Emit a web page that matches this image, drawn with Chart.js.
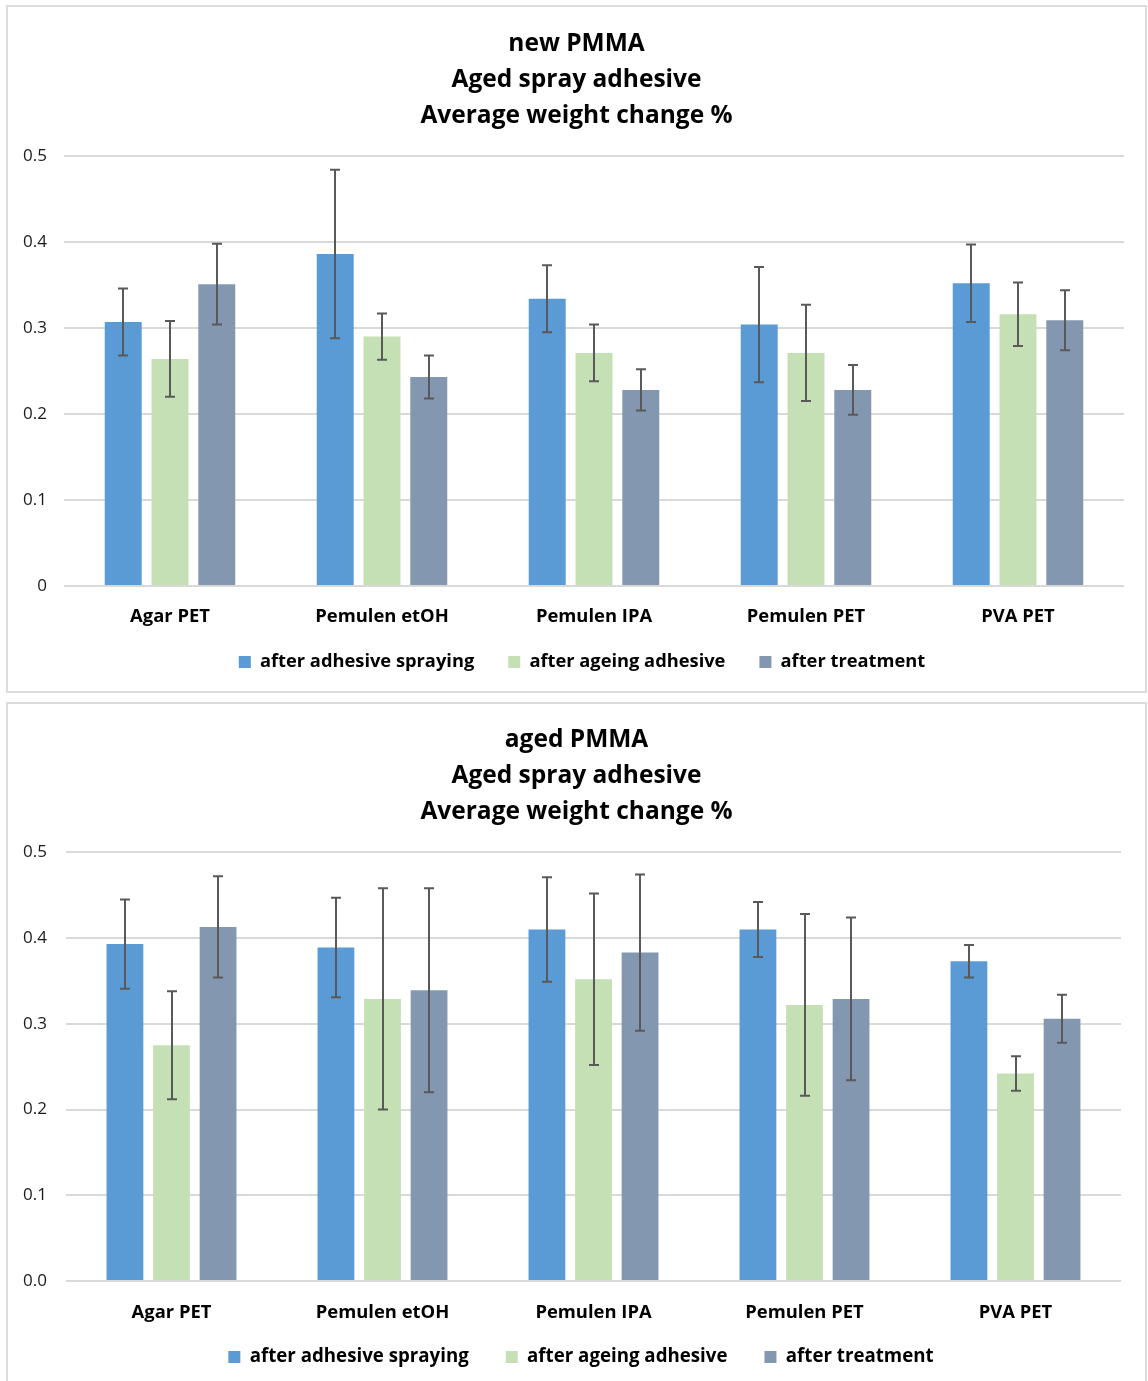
<!DOCTYPE html>
<html>
<head>
<meta charset="utf-8">
<title>Average weight change %</title>
<script src="https://cdn.jsdelivr.net/npm/chart.js@4.4.1/dist/chart.umd.min.js"></script>
<style>
  html, body { margin: 0; padding: 0; background: #fff; overflow: hidden; }
  body { position: relative; width: 1148px; height: 1381px; }
  .panel {
    position: absolute;
    left: 6px;
    width: 1141px;
    height: 688px;
    border: 2px solid #dcdcdc;
    box-sizing: border-box;
  }
  .panel canvas { display: block; }
</style>
</head>
<body>
<div class="panel" style="top: 5px;"><canvas id="newPmma" width="1137" height="684"></canvas></div>
<div class="panel" style="top: 702px;"><canvas id="agedPmma" width="1137" height="684"></canvas></div>

<script>
const categories = ['Agar PET', 'Pemulen etOH', 'Pemulen IPA', 'Pemulen PET', 'PVA PET'];
const seriesNames = ['after adhesive spraying', 'after ageing adhesive', 'after treatment'];
const seriesColors = ['#5b9bd5', '#c5e0b4', '#8497b0'];
const yTicks = [0, 0.1, 0.2, 0.3, 0.4, 0.5];

// new PMMA
const newSpraying = [0.307, 0.386, 0.334, 0.304, 0.352];
const newAgeing = [0.264, 0.290, 0.271, 0.271, 0.316];
const newTreatment = [0.351, 0.243, 0.228, 0.228, 0.309];
const newSprayingErr = [0.039, 0.098, 0.039, 0.067, 0.045];
const newAgeingErr = [0.044, 0.027, 0.033, 0.056, 0.037];
const newTreatmentErr = [0.047, 0.025, 0.024, 0.029, 0.035];

// aged PMMA
const agedSpraying = [0.393, 0.389, 0.410, 0.410, 0.373];
const agedAgeing = [0.275, 0.329, 0.352, 0.322, 0.242];
const agedTreatment = [0.413, 0.339, 0.383, 0.329, 0.306];
const agedSprayingErr = [0.052, 0.058, 0.061, 0.032, 0.019];
const agedAgeingErr = [0.063, 0.129, 0.100, 0.106, 0.020];
const agedTreatmentErr = [0.059, 0.119, 0.091, 0.095, 0.028];

Chart.defaults.font.family = '"Open Sans", sans-serif';
Chart.defaults.color = '#000';

// symmetric error bars drawn on top of each bar
const errorBars = {
  id: 'errorBars',
  afterDatasetsDraw(chart) {
    const ctx = chart.ctx;
    const y = chart.scales.y;
    ctx.save();
    ctx.strokeStyle = '#595959';
    ctx.lineWidth = 2;
    chart.data.datasets.forEach((ds, i) => {
      const meta = chart.getDatasetMeta(i);
      meta.data.forEach((bar, j) => {
        const v = ds.data[j];
        const e = ds.errors[j];
        const top = y.getPixelForValue(v + e);
        const bottom = y.getPixelForValue(v - e);
        const x = Math.round(bar.x);
        ctx.beginPath();
        ctx.moveTo(x, top);
        ctx.lineTo(x, bottom);
        ctx.moveTo(x - 5, top);
        ctx.lineTo(x + 5, top);
        ctx.moveTo(x - 5, bottom);
        ctx.lineTo(x + 5, bottom);
        ctx.stroke();
      });
    });
    ctx.restore();
  }
};

// title and legend are centred on the whole canvas, and the legend row
// sits right under the category labels (its padding is only wanted between items)
const placeBoxes = {
  id: 'placeBoxes',
  afterLayout(chart, args, opts) {
    const t = chart.titleBlock;
    t.left = 0;
    t.right = chart.width;

    const lg = chart.legend;
    const dx = opts.centerX - (lg.left + lg.right) / 2;
    lg.left += dx;
    lg.right += dx;
    lg.top = opts.legendY - opts.pad - opts.size / 2;
    lg.bottom = chart.height;
  }
};

function buildChart(id, opts) {
  const datasets = opts.values.map((vals, i) => ({
    label: seriesNames[i],
    data: vals,
    errors: opts.errors[i],
    backgroundColor: seriesColors[i],
    borderWidth: 0,
    categoryPercentage: 0.662,
    barPercentage: 0.79
  }));

  return new Chart(document.getElementById(id), {
    type: 'bar',
    data: { labels: categories, datasets: datasets },
    plugins: [errorBars, placeBoxes],
    options: {
      responsive: false,
      animation: false,
      layout: { padding: { left: 0, right: opts.padRight, top: 0, bottom: opts.padBottom } },
      plugins: {
        title: {
          display: true,
          text: opts.title,
          color: '#000',
          font: { size: 24.5, weight: 'bold', lineHeight: 36 / 24.5 },
          padding: { top: opts.titleTop, bottom: opts.titleBottom }
        },
        legend: {
          position: 'bottom',
          maxHeight: 50,
          labels: {
            boxWidth: 12,
            boxHeight: 12,
            padding: opts.legendPad,
            color: '#000',
            font: { size: opts.legendSize, weight: 'bold' }
          }
        },
        placeBoxes: {
          centerX: opts.legendX,
          legendY: opts.legendY,
          pad: opts.legendPad,
          size: opts.legendSize
        },
        tooltip: { enabled: false }
      },
      scales: {
        x: {
          grid: { display: false, drawTicks: false },
          border: { display: false },
          ticks: {
            color: '#000',
            padding: opts.xPad,
            font: { size: 18.4, weight: 'bold' }
          },
          afterFit: (s) => { s.height = 50; }
        },
        y: {
          min: 0,
          max: 0.5,
          afterBuildTicks: (s) => { s.ticks = yTicks.map(v => ({ value: v })); },
          grid: { color: '#d9d9d9', lineWidth: 2, drawTicks: false },
          border: { display: false },
          ticks: {
            color: '#1a1a1a',
            padding: opts.yPad,
            font: { size: 17 },
            callback: opts.tickFormat
          },
          afterFit: (s) => { s.width = opts.yWidth; }
        }
      }
    }
  });
}

buildChart('newPmma', {
  title: ['new PMMA', 'Aged spray adhesive', 'Average weight change %'],
  values: [newSpraying, newAgeing, newTreatment],
  errors: [newSprayingErr, newAgeingErr, newTreatmentErr],
  padRight: 21,
  padBottom: 5,
  titleTop: 19,
  titleBottom: 22,
  xPad: 20,
  yPad: 17,
  yWidth: 56,
  legendSize: 18.3,
  legendPad: 34,
  legendX: 574,
  legendY: 655,
  tickFormat: (v) => String(Math.round(v * 10) / 10)
});

buildChart('agedPmma', {
  title: ['aged PMMA', 'Aged spray adhesive', 'Average weight change %'],
  values: [agedSpraying, agedAgeing, agedTreatment],
  errors: [agedSprayingErr, agedAgeingErr, agedTreatmentErr],
  padRight: 24,
  padBottom: 7,
  titleTop: 18,
  titleBottom: 22.3,
  xPad: 21,
  yPad: 19,
  yWidth: 58,
  legendSize: 18.7,
  legendPad: 37,
  legendX: 573,
  legendY: 653,
  tickFormat: (v) => v.toFixed(1)
});
</script>
</body>
</html>
